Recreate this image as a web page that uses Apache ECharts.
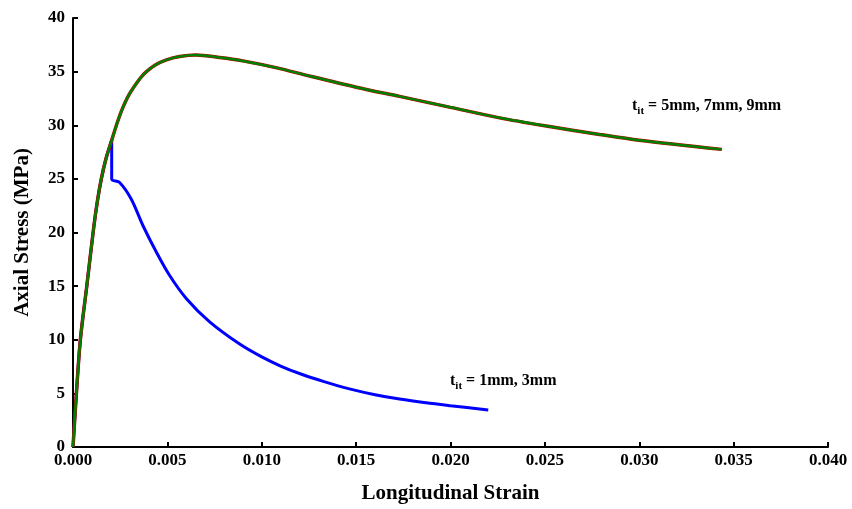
<!DOCTYPE html>
<html>
<head>
<meta charset="utf-8">
<script src="https://cdn.jsdelivr.net/npm/echarts@6/dist/echarts.min.js"></script>
<style>html,body{margin:0;padding:0;background:#fff}#c{width:852px;height:509px}</style>
</head>
<body>
<div id="c"></div>
<script>
// Curve for t_it = 5mm, 7mm, 9mm (overlapping)
var mainStrain = [0, 0.00018, 0.00039, 0.00073, 0.0011, 0.0013, 0.0015, 0.00175, 0.00205, 0.0023, 0.00256, 0.00297, 0.00357, 0.00389, 0.00438, 0.00495, 0.00565, 0.0065, 0.00777, 0.0090, 0.0108, 0.0125, 0.0150, 0.0173, 0.0200, 0.0226, 0.0250, 0.0279, 0.0300, 0.03437];
var mainStress = [0, 5, 10, 15, 20.5, 23, 25, 26.9, 28.6, 30, 31.3, 32.85, 34.4, 35.0, 35.64, 36.1, 36.41, 36.55, 36.32, 36.0, 35.35, 34.6, 33.55, 32.69, 31.67, 30.69, 29.95, 29.14, 28.6, 27.75];
// Curve for t_it = 1mm, 3mm
var lowStrain = [0, 0.00018, 0.00039, 0.00073, 0.0011, 0.0013, 0.0015, 0.00175, 0.00205, 0.00205, 0.00247, 0.00309, 0.00371, 0.00442, 0.00512, 0.00601, 0.00724, 0.00883, 0.0100, 0.0110, 0.0120, 0.0133, 0.0147, 0.0160, 0.0173, 0.0187, 0.0200, 0.0220];
var lowStress = [0, 5, 10, 15, 20.5, 23, 25, 26.9, 28.6, 25.0, 24.66, 23.1, 20.63, 18.16, 15.99, 13.83, 11.67, 9.6, 8.4, 7.55, 6.85, 6.1, 5.4, 4.88, 4.47, 4.12, 3.85, 3.46];
var xTicks = {min: 0, max: 0.04, interval: 0.005};
var yTicks = {min: 0, max: 40, interval: 5};
var xTitle = 'Longitudinal Strain';
var yTitle = 'Axial Stress (MPa)';
var noteHigh = ['t', 'it', ' = 5mm, 7mm, 9mm'];
var noteLow = ['t', 'it', ' = 1mm, 3mm'];

function pairs(xs, ys) { return xs.map(function (x, i) { return [x, ys[i]]; }); }

var font = '"Liberation Serif","Times New Roman",serif';
var rich = {
  t: {fontFamily: font, fontWeight: 'bold', fontSize: 16, lineHeight: 22, fill: '#000', verticalAlign: 'middle'},
  s: {fontFamily: font, fontWeight: 'bold', fontSize: 11, lineHeight: 12, fill: '#000', verticalAlign: 'bottom'}
};
function note(parts) { return '{t|' + parts[0] + '}{s|' + parts[1] + '}{t|' + parts[2] + '}'; }

var chart = echarts.init(document.getElementById('c'));
chart.setOption({
  animation: false,
  grid: {left: 73, right: 24, top: 18, bottom: 60, containLabel: false},
  xAxis: {
    type: 'value', min: xTicks.min, max: xTicks.max, interval: xTicks.interval,
    name: xTitle, nameLocation: 'middle', nameGap: 36,
    nameTextStyle: {fontFamily: font, fontWeight: 'bold', fontSize: 21, color: '#000'},
    axisLine: {show: true, lineStyle: {color: '#000', width: 2}},
    axisTick: {show: true, inside: true, length: 5, lineStyle: {color: '#000', width: 2}},
    axisLabel: {fontFamily: font, fontWeight: 'bold', fontSize: 17, color: '#000', margin: 5,
      formatter: function (v) { return v.toFixed(3); }},
    splitLine: {show: false}
  },
  yAxis: {
    type: 'value', min: yTicks.min, max: yTicks.max, interval: yTicks.interval,
    name: yTitle, nameLocation: 'middle', nameGap: 40, nameRotate: 90,
    nameTextStyle: {fontFamily: font, fontWeight: 'bold', fontSize: 21, color: '#000'},
    axisLine: {show: true, lineStyle: {color: '#000', width: 2}},
    axisTick: {show: true, inside: true, length: 5, lineStyle: {color: '#000', width: 2}},
    axisLabel: {fontFamily: font, fontWeight: 'bold', fontSize: 17, color: '#000', margin: 8},
    splitLine: {show: false}
  },
  series: [
    {type: 'line', data: pairs(lowStrain, lowStress), showSymbol: false, smooth: 0.3,
     lineStyle: {color: '#0000ff', width: 3}, z: 2},
    {type: 'line', data: pairs(mainStrain, mainStress), showSymbol: false, smooth: 0.3,
     lineStyle: {color: '#c00000', width: 3.5}, z: 3},
    {type: 'line', data: pairs(mainStrain, mainStress), showSymbol: false, smooth: 0.3,
     lineStyle: {color: '#008000', width: 2.5}, z: 4}
  ],
  graphic: [
    {type: 'text', left: 632, top: 98, style: {text: note(noteHigh), rich: rich}},
    {type: 'text', left: 450, top: 373, style: {text: note(noteLow), rich: rich}}
  ]
});
</script>
</body>
</html>
